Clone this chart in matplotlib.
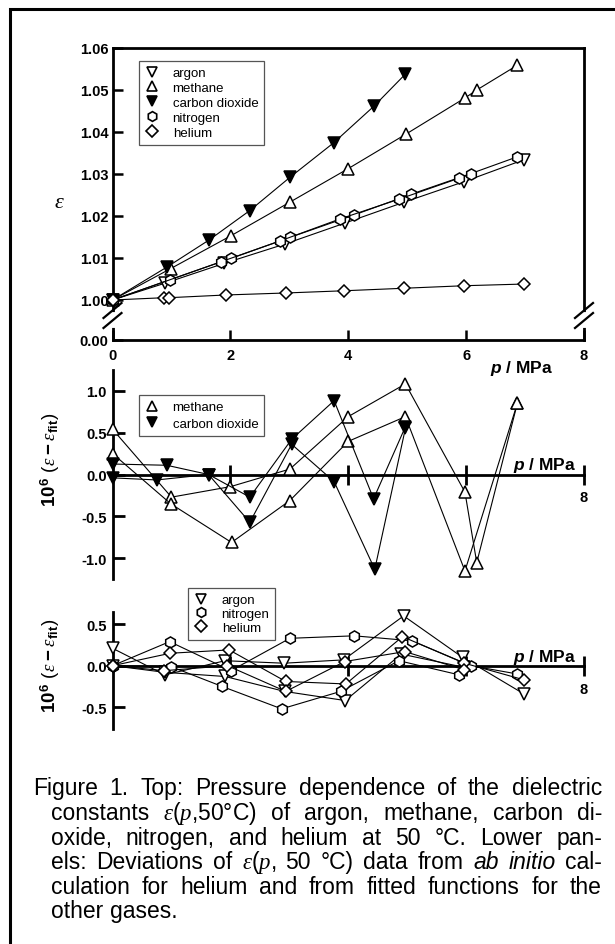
import matplotlib
matplotlib.use('Agg')
import matplotlib.pyplot as plt
from matplotlib.lines import Line2D
from matplotlib.patches import Rectangle

plt.rcParams['font.family'] = ['Liberation Sans', 'DejaVu Sans']
plt.rcParams['mathtext.fontset'] = 'custom'
plt.rcParams['mathtext.rm'] = 'Liberation Sans'
plt.rcParams['mathtext.it'] = 'Liberation Serif:italic'
plt.rcParams['mathtext.bf'] = 'Liberation Sans:bold'
plt.rcParams['mathtext.bfit'] = 'Liberation Sans:italic:bold'

# ---------------- data: top panel (epsilon vs p) ----------------
ar_p = [0, 0.89, 1.89, 2.92, 3.94, 4.95, 5.97, 6.98]
ar_eps = [1.0000, 1.0040, 1.0087, 1.0133, 1.0183, 1.0233, 1.0282, 1.0334]
ch4_p = [0, 0.99, 2.01, 3.01, 3.99, 4.98, 5.98, 6.18, 6.87]
ch4_eps = [1.0000, 1.0075, 1.0153, 1.0233, 1.0312, 1.0395, 1.0481, 1.0500, 1.0559]
co2_p = [0, 0.93, 1.64, 2.33, 3.01, 3.75, 4.44, 4.97]
co2_eps = [1.0000, 1.0079, 1.0143, 1.0213, 1.0292, 1.0374, 1.0462, 1.0538]
n2a_p = [0, 0.97, 2.01, 3.01, 4.09, 5.07, 6.08, 6.87]
n2a_eps = [1.0000, 1.0048, 1.0099, 1.0149, 1.0202, 1.0252, 1.0301, 1.0341]
n2b_p = [0, 1.84, 2.85, 3.86, 4.86, 5.88]
n2b_eps = [1.0000, 1.0091, 1.0141, 1.0193, 1.0240, 1.0290]
he_p = [0, 0.88, 0.96, 1.93, 2.94, 3.93, 4.95, 5.97, 6.98]
he_eps = [1.0000, 1.00055, 1.00055, 1.0012, 1.00167, 1.0022, 1.0028, 1.0034, 1.0038]

top_yticks = [1.00, 1.01, 1.02, 1.03, 1.04, 1.05, 1.06]
top_ylabels = ['1.00', '1.01', '1.02', '1.03', '1.04', '1.05', '1.06']
top_break_label = '0.00'
xticks = [0, 2, 4, 6, 8]

# ---------------- data: middle panel (deviations) ----------------
ch4_dev_p1 = [0, 1.00, 2.00, 3.01, 4.00, 4.97, 5.98, 6.18, 6.87]
ch4_dev1 = [0.54, -0.27, -0.145, 0.065, 0.69, 1.08, -0.21, -1.05, 0.85]
ch4_dev_p2 = [0, 0.99, 2.02, 3.01, 4.00, 4.97, 5.98, 6.87]
ch4_dev2 = [0.25, -0.35, -0.81, -0.31, 0.395, 0.69, -1.15, 0.85]
co2_dev_p1 = [0, 0.92, 1.63, 2.33, 3.04, 3.76, 4.43, 4.97]
co2_dev1 = [0.125, 0.11, 0.0, -0.27, 0.42, 0.88, -0.29, 0.57]
co2_dev_p2 = [0, 0.75, 1.63, 2.33, 3.04, 3.76, 4.45, 4.97]
co2_dev2 = [-0.04, -0.065, 0.0, -0.57, 0.36, -0.085, -1.13, 0.55]
mid_yticks = [-1.0, -0.5, 0.0, 0.5, 1.0]

# ---------------- data: bottom panel (deviations) ----------------
ar_dev_p1 = [0, 0.89, 1.91, 2.91, 3.92, 4.94, 5.94, 6.98]
ar_dev1 = [0.21, -0.11, 0.06, 0.03, 0.07, 0.60, 0.10, -0.34]
ar_dev_p2 = [0, 0.89, 1.91, 2.92, 3.95, 4.90, 5.97]
ar_dev2 = [0.0, -0.08, -0.13, -0.31, -0.42, 0.14, -0.02]
n2_dev_p1 = [0, 0.97, 2.01, 3.01, 4.10, 5.08, 6.08, 6.87]
n2_dev1 = [0.0, 0.29, -0.06, 0.33, 0.36, 0.30, 0.0, -0.10]
n2_dev_p2 = [0, 0.99, 1.86, 2.87, 3.87, 4.86, 5.88]
n2_dev2 = [0.0, -0.01, -0.25, -0.52, -0.31, 0.06, -0.11]
he_dev_p1 = [0, 0.98, 1.98, 2.94, 3.96, 4.92, 5.97, 6.98]
he_dev1 = [0.0, 0.15, 0.19, -0.19, -0.22, 0.35, 0.03, -0.17]
he_dev_p2 = [0, 0.88, 1.95, 2.94, 3.94, 4.96, 5.97]
he_dev2 = [0.0, -0.06, 0.0, -0.31, 0.05, 0.17, -0.05]
bot_yticks = [-0.5, 0.0, 0.5]

caption_lines = [
    [('Figure', 'n'), ('1.', 'n'), ('Top:', 'n'), ('Pressure', 'n'), ('dependence', 'n'),
     ('of', 'n'), ('the', 'n'), ('dielectric', 'n')],
    [('constants', 'n'), (r'$\varepsilon$($p$,50°C)', 'n'), ('of', 'n'), ('argon,', 'n'),
     ('methane,', 'n'), ('carbon', 'n'), ('di-', 'n')],
    [('oxide,', 'n'), ('nitrogen,', 'n'), ('and', 'n'), ('helium', 'n'), ('at', 'n'),
     ('50', 'n'), ('°C.', 'n'), ('Lower', 'n'), ('pan-', 'n')],
    [('els:', 'n'), ('Deviations', 'n'), ('of', 'n'), (r'$\varepsilon$($p$,', 'n'), ('50', 'n'),
     ('°C)', 'n'), ('data', 'n'), ('from', 'n'), ('ab', 'i'), ('initio', 'i'), ('cal-', 'n')],
    [('culation', 'n'), ('for', 'n'), ('helium', 'n'), ('and', 'n'), ('from', 'n'),
     ('fitted', 'n'), ('functions', 'n'), ('for', 'n'), ('the', 'n')],
    [('other', 'n'), ('gases.', 'n')],
]

# ---------------- layout helpers ----------------
W, H = 615, 945
fig = plt.figure(figsize=(W / 100, H / 100), dpi=100)


def fx(px):
    return px / W


def fy(py):
    return 1 - py / H


AX_L, AX_R = 112.5, 584
line_kw = dict(color='black', lw=0.8, mec='black', mew=1.1, ms=8)
STY = {
    'argon': dict(marker='v', mfc='white'),
    'methane': dict(marker='^', mfc='white'),
    'carbon dioxide': dict(marker='v', mfc='black'),
    'nitrogen': dict(marker='h', mfc='white'),
    'helium': dict(marker='D', mfc='white', ms=6.5),
}


def plot_series(ax, x, y, name):
    kw = dict(line_kw)
    kw.update(STY[name])
    ax.plot(x, y, **kw, clip_on=False, zorder=3)


def handle(name):
    kw = dict(mec='black', mew=1.2, ms=7, color='black')
    kw.update(STY[name])
    if name == 'helium':
        kw['ms'] = 6
    return Line2D([], [], linestyle='none', **kw)


def make_legend(ax, names, left_px, top_px, spacing):
    leg = ax.legend([handle(n) for n in names], names, loc='upper left',
                    bbox_to_anchor=(fx(left_px), fy(top_px)), bbox_transform=fig.transFigure,
                    borderaxespad=0, fontsize=9.5, frameon=True, fancybox=False,
                    edgecolor='#555555', framealpha=1, handlelength=1.0, handletextpad=1.1,
                    labelspacing=spacing, borderpad=0.45)
    leg.get_frame().set_linewidth(0.9)
    leg.set_zorder(5)
    return leg


tick_font = dict(fontsize=10.5, fontweight='bold')

# ---------------- top panel ----------------
y_lo = 1.00 - 0.06 * 40 / 252
ax1 = fig.add_axes([fx(AX_L), fy(341), fx(AX_R) - fx(AX_L), fy(49) - fy(341)])
plot_series(ax1, ar_p, ar_eps, 'argon')
plot_series(ax1, ch4_p, ch4_eps, 'methane')
plot_series(ax1, co2_p, co2_eps, 'carbon dioxide')
plot_series(ax1, n2a_p, n2a_eps, 'nitrogen')
plot_series(ax1, n2b_p, n2b_eps, 'nitrogen')
plot_series(ax1, he_p, he_eps, 'helium')
ax1.set_xlim(0, 8)
ax1.set_ylim(y_lo, 1.06)
ax1.set_yticks([y_lo] + top_yticks)
ax1.set_yticklabels([top_break_label] + top_ylabels, **tick_font)
ax1.set_xticks(xticks)
ax1.set_xticklabels([str(t) for t in xticks], **tick_font)
ax1.tick_params(axis='both', direction='in', length=7, width=1.8, pad=3)
ax1.tick_params(axis='x', pad=6)
for s in ax1.spines.values():
    s.set_linewidth(2)
ax1.text(0.934, -0.095, r'$\mathbfit{p}$ / MPa', transform=ax1.transAxes, ha='right',
         va='center', fontsize=12.5, fontweight='bold')
fig.text(fx(59), fy(203), r'$\varepsilon$', fontsize=16, ha='center', va='center')
make_legend(ax1, ['argon', 'methane', 'carbon dioxide', 'nitrogen', 'helium'], 139, 62, 0.2)

# axis breaks (left and right spines)
for xs in (AX_L, AX_R):
    fig.add_artist(Line2D([fx(xs), fx(xs)], [fy(315), fy(326)], color='white', lw=3.5, zorder=6))
    for dy in (0, 10):
        fig.add_artist(Line2D([fx(xs - 9), fx(xs + 9)], [fy(324 + dy - 5), fy(309 + dy - 5)],
                              color='black', lw=1.6, zorder=7))


# ---------------- deviation panels ----------------
def dev_axes(top_px, bot_px, zero_px, unit_px):
    ax = fig.add_axes([fx(AX_L), fy(bot_px), fx(AX_R) - fx(AX_L), fy(top_px) - fy(bot_px)])
    ax.set_xlim(0, 8)
    ax.set_ylim(-(bot_px - zero_px) / unit_px, (zero_px - top_px) / unit_px)
    ax.patch.set_alpha(0)
    ax.spines['top'].set_visible(False)
    ax.spines['right'].set_visible(False)
    ax.spines['bottom'].set_position(('data', 0))
    ax.spines['bottom'].set_linewidth(2)
    ax.spines['left'].set_linewidth(2)
    ax.set_xticks([2, 4, 6, 8])
    ax.set_xticklabels(['', '', '', '8'], **tick_font)
    ax.tick_params(axis='x', direction='inout', length=15, width=2, pad=4)
    ax.tick_params(axis='y', direction='in', length=8.5, width=2, pad=4)
    ax.text(7.87, 0.0, r'$\mathbfit{p}$ / MPa', ha='right', va='bottom', fontsize=12.5,
            fontweight='bold', transform=ax.transData)
    return ax


ylab = r'$\mathbf{10}^{\mathbf{6}}\,\;(\varepsilon\;\mathbf{-}\;\varepsilon_{\mathbf{fit}})$'

ax2 = dev_axes(371, 580, 475.5, 83.9)
plot_series(ax2, ch4_dev_p1, ch4_dev1, 'methane')
plot_series(ax2, ch4_dev_p2, ch4_dev2, 'methane')
plot_series(ax2, co2_dev_p1, co2_dev1, 'carbon dioxide')
plot_series(ax2, co2_dev_p2, co2_dev2, 'carbon dioxide')
ax2.set_yticks(mid_yticks)
ax2.set_yticklabels(['%.1f' % v for v in mid_yticks], **tick_font)
fig.text(fx(50), fy(460), ylab, rotation=90, ha='center', va='center', fontsize=13.5,
         fontweight='bold')
make_legend(ax2, ['methane', 'carbon dioxide'], 139, 396, 0.35)

ax3 = dev_axes(613, 730, 666.7, 83.0)
plot_series(ax3, ar_dev_p1, ar_dev1, 'argon')
plot_series(ax3, ar_dev_p2, ar_dev2, 'argon')
plot_series(ax3, n2_dev_p1, n2_dev1, 'nitrogen')
plot_series(ax3, n2_dev_p2, n2_dev2, 'nitrogen')
plot_series(ax3, he_dev_p1, he_dev1, 'helium')
plot_series(ax3, he_dev_p2, he_dev2, 'helium')
ax3.set_yticks(bot_yticks)
ax3.set_yticklabels(['%.1f' % v for v in bot_yticks], **tick_font)
fig.text(fx(50), fy(666), ylab, rotation=90, ha='center', va='center', fontsize=13.5,
         fontweight='bold')
make_legend(ax3, ['argon', 'nitrogen', 'helium'], 188, 589, 0.12)

# ---------------- frame ----------------
fig.add_artist(Rectangle((fx(10), -0.1), 1.2, fy(10) + 0.1, transform=fig.transFigure,
                         fill=False, lw=2.2, edgecolor='black'))

# ---------------- caption (justified) ----------------
renderer = fig.canvas.get_renderer()
cap_size = 16.5
cap_left = [33, 51, 51, 51, 51, 51]
cap_right = 602
cap_base = [795, 820, 845, 869, 894, 918]
for i, words in enumerate(caption_lines):
    texts = []
    for w, st in words:
        t = fig.text(0, 0, w, fontsize=cap_size, style='italic' if st == 'i' else 'normal',
                     ha='left', va='baseline')
        texts.append(t)
    widths = [t.get_window_extent(renderer).width for t in texts]
    last = (i == len(caption_lines) - 1)
    if last or len(texts) < 2:
        gap = cap_size * 100 / 72 * 0.28
    else:
        gap = (cap_right - cap_left[i] - sum(widths)) / (len(texts) - 1)
    x = cap_left[i]
    for t, wdt in zip(texts, widths):
        t.set_position((fx(x), fy(cap_base[i])))
        x += wdt + gap

fig.savefig('out.png', dpi=100)
